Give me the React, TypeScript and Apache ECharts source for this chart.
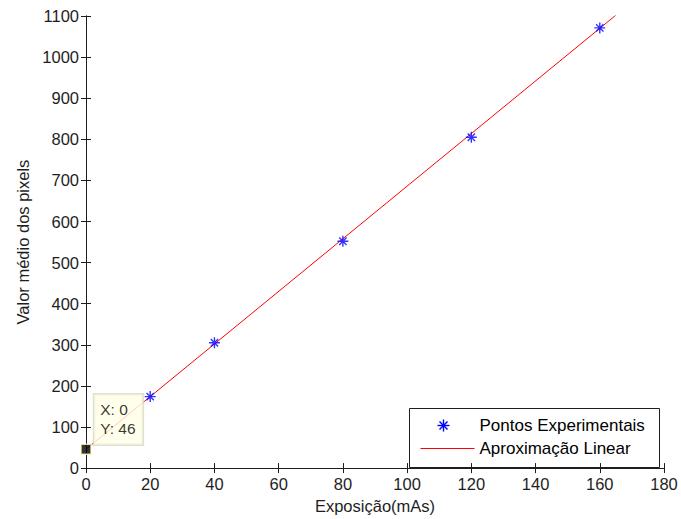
import React, { useEffect, useRef } from "react";
import * as echarts from "echarts";

const expX = [20, 40, 80, 120, 160];
const expY = [174, 305, 552, 805, 1071];
const fitX = [0, 180];
const fitY = [46, 1198];
const tipPoint = [0, 46];
const xTicks = { min: 0, max: 180, interval: 20 };
const yTicks = { min: 0, max: 1100, interval: 100 };

const FONT = "Liberation Sans, Arial, sans-serif";
const STAR = "path://M0,6L12,6M6,0L6,12M2,2L10,10M10,2L2,10";

export default function App() {
  const ref = useRef<HTMLDivElement>(null);
  useEffect(() => {
    document.body.style.margin = "0";
    if (!ref.current) return;
    const chart = echarts.init(ref.current, null, { renderer: "svg" });
    const axisLine = { show: true, lineStyle: { color: "#1e1e1e", width: 1 } };
    const tick = { show: true, inside: true, length: 5, lineStyle: { color: "#1e1e1e" } };
    const lbl = { color: "#1e1e1e", fontFamily: FONT, fontSize: 16.5 };
    chart.setOption({
      animation: false,
      backgroundColor: "#ffffff",
      grid: { left: 86, right: 17, top: 16, bottom: 47, containLabel: false },
      xAxis: [
        {
          type: "value",
          ...xTicks,
          position: "bottom",
          axisLine,
          axisTick: tick,
          splitLine: { show: false },
          axisLabel: { ...lbl, margin: 7, formatter: (v: number) => String(v) },
          name: "Exposição(mAs)",
          nameLocation: "middle",
          nameGap: 26,
          nameTextStyle: { ...lbl },
        },
        {
          type: "value",
          ...xTicks,
          position: "top",
          axisLine,
          axisTick: tick,
          splitLine: { show: false },
          axisLabel: { show: false },
        },
      ],
      yAxis: [
        {
          type: "value",
          ...yTicks,
          position: "left",
          axisLine,
          axisTick: tick,
          splitLine: { show: false },
          axisLabel: { ...lbl, margin: 7, formatter: (v: number) => String(v) },
          name: "Valor médio dos pixels",
          nameLocation: "middle",
          nameGap: 54,
          nameTextStyle: { ...lbl },
        },
        {
          type: "value",
          ...yTicks,
          position: "right",
          axisLine,
          axisTick: tick,
          splitLine: { show: false },
          axisLabel: { show: false },
        },
      ],
      series: [
        {
          name: "Aproximação Linear",
          type: "line",
          data: fitX.map((x, i) => [x, fitY[i]]),
          showSymbol: false,
          symbol: "none",
          lineStyle: { color: "#ff0000", width: 1 },
          clip: true,
          z: 2,
        },
        {
          name: "Pontos Experimentais",
          type: "scatter",
          data: expX.map((x, i) => [x, expY[i]]),
          symbol: STAR,
          symbolSize: 11,
          itemStyle: { color: "none", borderColor: "#0000ff", borderWidth: 1.4 },
          z: 3,
        },
        {
          name: "datatip",
          type: "scatter",
          data: [tipPoint],
          symbol: "rect",
          symbolSize: 10,
          clip: false,
          itemStyle: { color: "#000000", borderColor: "#ffffc8", borderWidth: 1.5 },
          label: {
            show: true,
            position: [14, -49],
            formatter: () => `X: ${tipPoint[0]}\nY: ${tipPoint[1]}`,
            color: "#000000",
            fontFamily: FONT,
            fontSize: 15.5,
            lineHeight: 19,
            backgroundColor: "#ffffe6",
            borderColor: "#d8d8c8",
            borderWidth: 1.5,
            padding: [6, 7, 6, 6],
          },
          z: 5,
        },
      ],
      graphic: [
        {
          type: "group",
          left: 409,
          top: 408,
          z: 10,
          children: [
            {
              type: "rect",
              shape: { x: 0, y: 0, width: 250, height: 59 },
              style: { fill: "#ffffff", stroke: "#1e1e1e", lineWidth: 1 },
            },
            {
              type: "group",
              x: 28,
              y: 11,
              children: [
                { type: "line", shape: { x1: 0, y1: 6, x2: 12, y2: 6 }, style: { stroke: "#0000ff", lineWidth: 1.4 } },
                { type: "line", shape: { x1: 6, y1: 0, x2: 6, y2: 12 }, style: { stroke: "#0000ff", lineWidth: 1.4 } },
                { type: "line", shape: { x1: 2, y1: 2, x2: 10, y2: 10 }, style: { stroke: "#0000ff", lineWidth: 1.4 } },
                { type: "line", shape: { x1: 10, y1: 2, x2: 2, y2: 10 }, style: { stroke: "#0000ff", lineWidth: 1.4 } },
              ],
            },
            {
              type: "text",
              x: 70,
              y: 17,
              style: { text: "Pontos Experimentais", fill: "#000000", font: `17px ${FONT}`, verticalAlign: "middle" },
            },
            {
              type: "line",
              shape: { x1: 11, y1: 40, x2: 65, y2: 40 },
              style: { stroke: "#ff0000", lineWidth: 1 },
            },
            {
              type: "text",
              x: 70,
              y: 40,
              style: { text: "Aproximação Linear", fill: "#000000", font: `17px ${FONT}`, verticalAlign: "middle" },
            },
          ],
        },
      ],
    });
    return () => chart.dispose();
  }, []);
  return <div ref={ref} style={{ width: 681, height: 519 }} />;
}
